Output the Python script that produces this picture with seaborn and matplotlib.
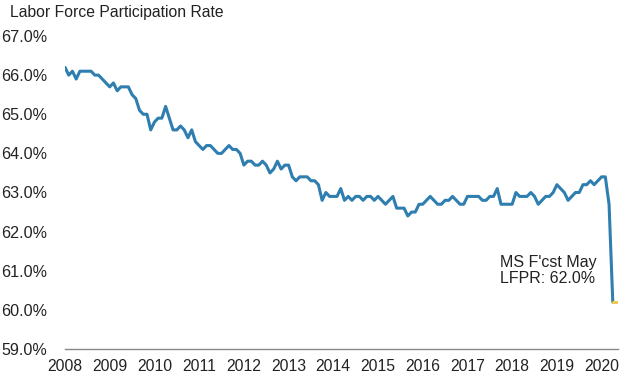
import numpy as np
import pandas as pd
import matplotlib
matplotlib.use("Agg")
import matplotlib.pyplot as plt
import seaborn as sns

# monthly LFPR (%), Jan 2008 - Apr 2020
lfpr = [
    66.2, 66.0, 66.1, 65.9, 66.1, 66.1, 66.1, 66.1, 66.0, 66.0, 65.9, 65.8,  # 2008
    65.7, 65.8, 65.6, 65.7, 65.7, 65.7, 65.5, 65.4, 65.1, 65.0, 65.0, 64.6,  # 2009
    64.8, 64.9, 64.9, 65.2, 64.9, 64.6, 64.6, 64.7, 64.6, 64.4, 64.6, 64.3,  # 2010
    64.2, 64.1, 64.2, 64.2, 64.1, 64.0, 64.0, 64.1, 64.2, 64.1, 64.1, 64.0,  # 2011
    63.7, 63.8, 63.8, 63.7, 63.7, 63.8, 63.7, 63.5, 63.6, 63.8, 63.6, 63.7,  # 2012
    63.7, 63.4, 63.3, 63.4, 63.4, 63.4, 63.3, 63.3, 63.2, 62.8, 63.0, 62.9,  # 2013
    62.9, 62.9, 63.1, 62.8, 62.9, 62.8, 62.9, 62.9, 62.8, 62.9, 62.9, 62.8,  # 2014
    62.9, 62.8, 62.7, 62.8, 62.9, 62.6, 62.6, 62.6, 62.4, 62.5, 62.5, 62.7,  # 2015
    62.7, 62.8, 62.9, 62.8, 62.7, 62.7, 62.8, 62.8, 62.9, 62.8, 62.7, 62.7,  # 2016
    62.9, 62.9, 62.9, 62.9, 62.8, 62.8, 62.9, 62.9, 63.1, 62.7, 62.7, 62.7,  # 2017
    62.7, 63.0, 62.9, 62.9, 62.9, 63.0, 62.9, 62.7, 62.8, 62.9, 62.9, 63.0,  # 2018
    63.2, 63.1, 63.0, 62.8, 62.9, 63.0, 63.0, 63.2, 63.2, 63.3, 63.2, 63.3,  # 2019
    63.4, 63.4, 62.7, 60.2,                                                  # 2020
]
fcst = [60.2, 60.2]  # Apr-May 2020 marker segment
years = list(range(2008, 2021))
yticks = [59, 60, 61, 62, 63, 64, 65, 66, 67]

x = 2008 + np.arange(len(lfpr)) / 12
xf = 2020 + np.array([3, 4]) / 12
df = pd.DataFrame({"t": x, "rate": lfpr})
dff = pd.DataFrame({"t": xf, "rate": fcst})

sns.set_style("white")
plt.rcParams["font.family"] = ["Liberation Sans", "DejaVu Sans"]

fig = plt.figure(figsize=(6.36, 3.83), dpi=100)
ax = fig.add_axes([65 / 636, 1 - 349 / 383, 553 / 636, 313 / 383])

sns.lineplot(data=df, x="t", y="rate", ax=ax, color="#2e7eb0", linewidth=2.2)
sns.lineplot(data=dff, x="t", y="rate", ax=ax, color="#f2c94c", linewidth=2.2)

ax.set_xlim(2008, 2020 + 4.4 / 12)
ax.set_ylim(59, 67)
ax.set_xticks(years)
ax.set_xticklabels([str(y) for y in years], fontsize=11.3, color="#222222")
ax.set_yticks(yticks)
ax.set_yticklabels([f"{v:.1f}%" for v in yticks], fontsize=11.6, color="#222222")
ax.set_xlabel("")
ax.set_ylabel("")

for s in ["top", "right", "left"]:
    ax.spines[s].set_visible(False)
ax.spines["bottom"].set_color("#888888")
ax.spines["bottom"].set_linewidth(1.0)
ax.tick_params(axis="x", direction="out", length=4, width=1, color="#888888", pad=3)
ax.tick_params(axis="y", length=0, pad=13)

ax.text(2017.72, 61.0, "MS F'cst May\nLFPR: 62.0%", fontsize=11.5, color="#222222",
        ha="left", va="center", linespacing=1.1)

fig.text(10 / 636, 1 - 12 / 383, "Labor Force Participation Rate", fontsize=11.3,
         color="#222222", ha="left", va="center")

fig.savefig("out.png", dpi=100)
